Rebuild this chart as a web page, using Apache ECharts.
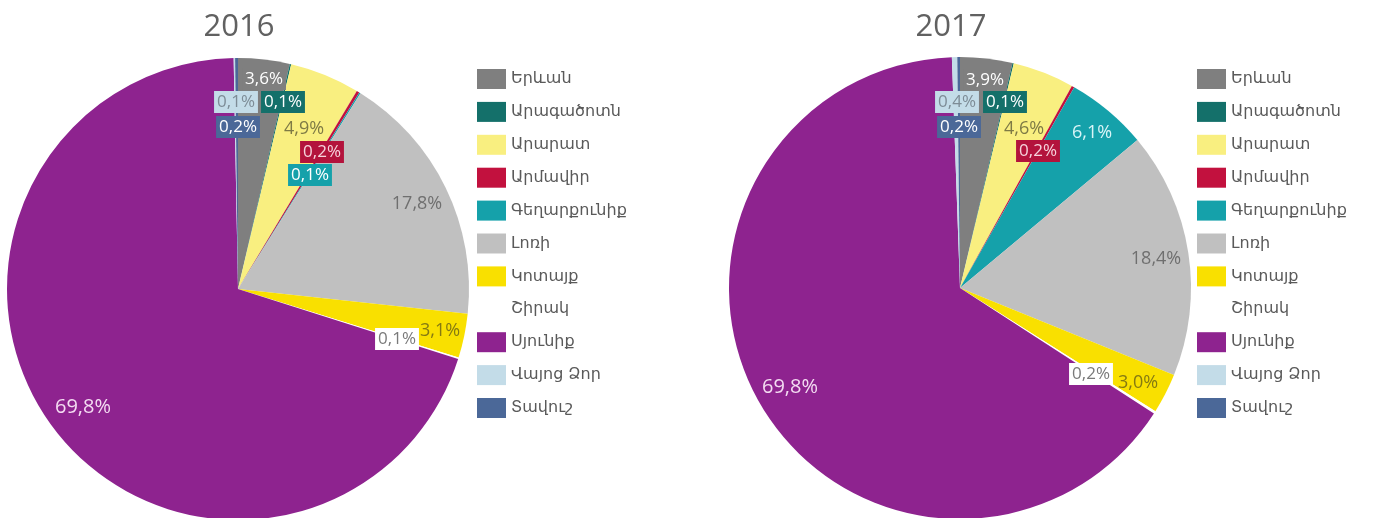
<!DOCTYPE html>
<html>
<head>
<meta charset="utf-8">
<script src="https://cdn.jsdelivr.net/npm/echarts@6/dist/echarts.min.js"></script>
<style>
  html, body { margin: 0; padding: 0; background: #fff; }
  #chart { width: 1377px; height: 518px; }
</style>
</head>
<body>
<div id="chart"></div>
<script>
// Regional shares (%) for the two years
const years = ['2016', '2017'];
const regions = ['Երևան', 'Արագածոտն', 'Արարատ', 'Արմավիր', 'Գեղարքունիք', 'Լոռի', 'Կոտայք', 'Շիրակ', 'Սյունիք', 'Վայոց Ձոր', 'Տավուշ'];
const share2016 = [3.6, 0.1, 4.9, 0.2, 0.1, 17.8, 3.1, 0.1, 69.8, 0.1, 0.2];
const share2017 = [3.9, 0.1, 4.6, 0.2, 6.1, 18.4, 3.0, 0.2, 69.8, 0.4, 0.2];

// Slice colours, one per region
const colors = ['#7f7f7f', '#14706a', '#f9ef80', '#c2113e', '#15a1aa', '#c0c0c0', '#f9e000', '#ffffff', '#8e238f', '#c3dce8', '#4b6898'];

// Label look per region: text colour, box colour and text size
const labelText = ['#ffffff', '#ffffff', '#7e7a45', '#f6d3dc', '#ffffff', '#6f6f6f', '#857a12', '#7a7a7a', '#f4dcf2', '#7d8c96', '#ffffff'];
const labelBox  = ['#7f7f7f', '#14706a', null, '#b3133c', '#15a1aa', null, null, '#ffffff', null, '#c3dce8', '#4b6898'];
const labelSize = [17, 17, 18, 17, 17, 18, 18, 17, 20, 17, 17];

// Label anchor points (label centres) for each pie
const labelSpots = [
  [[264, 79], [283, 102], [304, 129], [322, 152], [310, 175], [417, 204], [440, 331], [397, 339], [83, 407], [236, 102], [238, 127]],
  [[985, 80], [1005, 102], [1024, 129], [1038, 151], [1092, 133], [1156, 259], [1138, 383], [1091, 374], [790, 387], [957, 102], [959, 127]]
];
const text2017_6 = '#d9f5f7';

const numFont = "'Open Sans', 'DejaVu Sans', sans-serif";
const armFont = "'DejaVu Sans', 'Noto Sans', sans-serif";

function fmt(v) { return v.toFixed(1).replace('.', ',') + '%'; }

function buildData(values, yearIdx) {
  return regions.map((name, i) => {
    // in 2017 the Gegharkunik slice is wide enough to carry its label without a box
    const wide = yearIdx === 1 && i === 4;
    const box = wide ? null : labelBox[i];
    return {
      name: name,
      value: values[i],
      itemStyle: { color: colors[i] },
      label: {
        color: wide ? text2017_6 : labelText[i],
        fontSize: wide ? 18 : labelSize[i],
        backgroundColor: box,
        padding: box ? [3, 3, 2, 3] : 0
      }
    };
  });
}

function pieSeries(values, yearIdx, center) {
  return {
    type: 'pie',
    name: years[yearIdx],
    center: center,
    radius: 231,
    startAngle: 90,
    clockwise: true,
    animation: false,
    silent: true,
    avoidLabelOverlap: false,
    itemStyle: { borderWidth: 0 },
    label: {
      show: true,
      position: 'inside',
      formatter: p => fmt(p.value),
      fontFamily: numFont,
      fontSize: 17
    },
    labelLine: { show: false },
    labelLayout: p => {
      const s = labelSpots[yearIdx][p.dataIndex];
      return { x: s[0], y: s[1], align: 'center', verticalAlign: 'middle' };
    },
    data: buildData(values, yearIdx)
  };
}

function legendAt(left) {
  return {
    orient: 'vertical',
    left: left,
    top: 64,
    itemWidth: 29,
    itemHeight: 20,
    itemGap: 12.9,
    icon: 'rect',
    selectedMode: false,
    data: regions,
    textStyle: { fontFamily: armFont, fontSize: 16, color: '#5a5a5a' }
  };
}

const chart = echarts.init(document.getElementById('chart'));
chart.setOption({
  backgroundColor: '#ffffff',
  title: [
    { text: years[0], left: 234, top: 7, textAlign: 'center',
      textStyle: { fontFamily: numFont, fontSize: 31, fontWeight: 'normal', color: '#616161' } },
    { text: years[1], left: 946, top: 7, textAlign: 'center',
      textStyle: { fontFamily: numFont, fontSize: 31, fontWeight: 'normal', color: '#616161' } }
  ],
  legend: [legendAt(472), legendAt(1192)],
  series: [
    pieSeries(share2016, 0, [238, 289]),
    pieSeries(share2017, 1, [960, 288])
  ]
});
</script>
</body>
</html>
